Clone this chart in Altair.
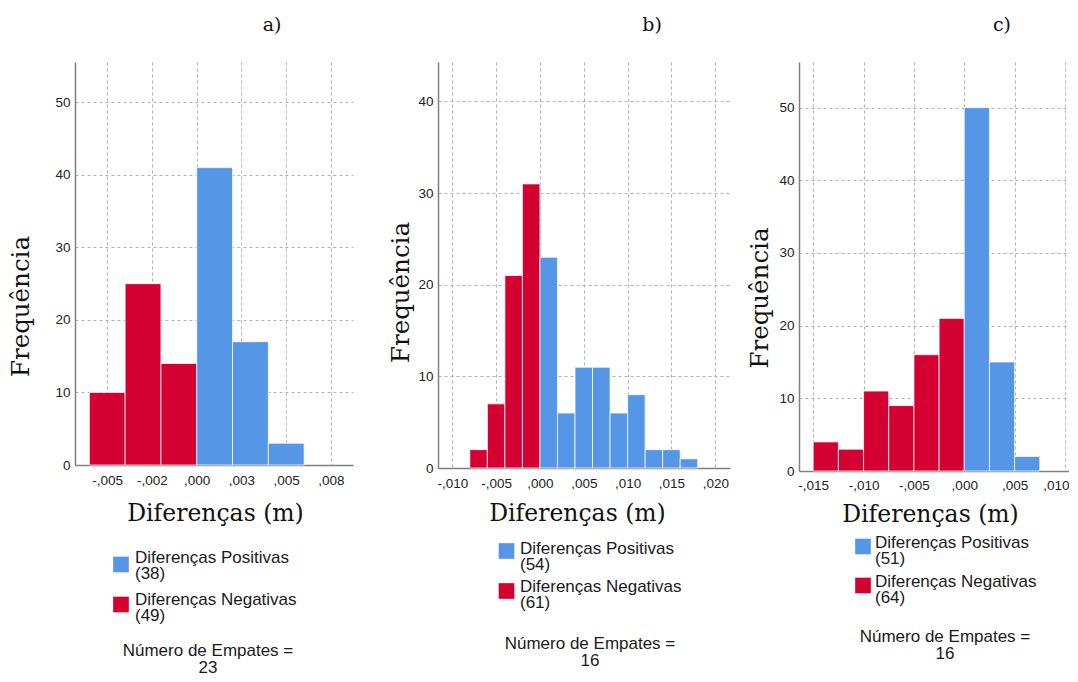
import altair as alt
import pandas as pd

BLUE = "#5596E6"
RED = "#D50032"

# ---------------- data ----------------
legend_names = ["Diferenças Positivas", "Diferenças Negativas"]
panel_titles = ["a)", "b)", "c)"]
x_title = "Diferenças (m)"
y_title = "Frequência"
ties_label = "Número de Empates ="

a_edges = [-0.006, -0.004, -0.002, 0.000, 0.002, 0.004, 0.006]
a_counts = [10, 25, 14, 41, 17, 3]
a_xticks = [-0.005, -0.0025, 0.0, 0.0025, 0.005, 0.0075]
a_xlabels = ["-,005", "-,002", ",000", ",003", ",005", ",008"]
a_yticks = [0, 10, 20, 30, 40, 50]
a_legend_counts = [38, 49]
a_ties = 23

b_edges = [-0.008, -0.006, -0.004, -0.002, 0.000, 0.002, 0.004, 0.006,
           0.008, 0.010, 0.012, 0.014, 0.016, 0.018]
b_counts = [2, 7, 21, 31, 23, 6, 11, 11, 6, 8, 2, 2, 1]
b_xticks = [-0.010, -0.005, 0.0, 0.005, 0.010, 0.015, 0.020]
b_xlabels = ["-,010", "-,005", ",000", ",005", ",010", ",015", ",020"]
b_yticks = [0, 10, 20, 30, 40]
b_legend_counts = [54, 61]
b_ties = 16

c_edges = [-0.015, -0.0125, -0.010, -0.0075, -0.005, -0.0025, 0.0,
           0.0025, 0.005, 0.0075]
c_counts = [4, 3, 11, 9, 16, 21, 50, 15, 2]
c_xticks = [-0.015, -0.010, -0.005, 0.0, 0.005, 0.010]
c_xlabels = ["-,015", "-,010", "-,005", ",000", ",005", ",010"]
c_yticks = [0, 10, 20, 30, 40, 50]
c_legend_counts = [51, 64]
c_ties = 16


def label_expr(ticks, labels):
    vals = ",".join(repr(float(t)) for t in ticks)
    labs = ",".join("'" + l + "'" for l in labels)
    return f"[{labs}][indexof([{vals}], datum.value)]"


def panel(edges, counts, xticks, xlabels, yticks, xdom, ydom, w, h,
          title, title_dx, leg_counts, ties, geo):
    df = pd.DataFrame({
        "start": edges[:-1],
        "end": edges[1:],
        "count": counts,
    })
    df["sign"] = [legend_names[1] if s < 0 else legend_names[0] for s in df["start"]]

    xaxis_kw = dict(values=xticks, labelExpr=label_expr(xticks, xlabels),
                    title=x_title, grid=True, labelPadding=geo["xlabpad"],
                    titleY=geo["xtitleY"], titleX=geo["xtitleX"],
                    titleBaseline="top")
    if "flush" in geo:
        xaxis_kw.update(labelFlush=geo["flush"], labelFlushOffset=geo["flushoff"])

    bars = alt.Chart(df).mark_bar(
        stroke="white", strokeWidth=1, strokeOpacity=0.75
    ).encode(
        x=alt.X("start:Q",
                scale=alt.Scale(domain=xdom, nice=False, zero=False),
                axis=alt.Axis(**xaxis_kw)),
        x2="end:Q",
        y=alt.Y("count:Q",
                scale=alt.Scale(domain=ydom, nice=False, zero=True),
                axis=alt.Axis(values=yticks, title=y_title, grid=True,
                              labelPadding=5, titleX=geo["ytitleX"],
                              titleY=geo["ytitleY"], titleBaseline="bottom")),
        y2=alt.datum(0),
        color=alt.Color("sign:N",
                        scale=alt.Scale(domain=legend_names, range=[BLUE, RED]),
                        legend=None),
    )

    layers = [bars]
    colors = [BLUE, RED]
    for i in range(2):
        sq = alt.Chart(pd.DataFrame({"k": [legend_names[i]]})).mark_square(
            size=245, color=colors[i], opacity=1, filled=True
        ).encode(x=alt.value(geo["sqx"]), y=alt.value(geo["sqy"][i]))
        txt = alt.Chart(pd.DataFrame({"t": [f"{legend_names[i]}\n({leg_counts[i]})"]})).mark_text(
            align="left", baseline="alphabetic", lineBreak="\n", lineHeight=16,
            font="Liberation Sans", fontSize=17, color="#1a1a1a"
        ).encode(text="t:N", x=alt.value(geo["txtx"]), y=alt.value(geo["txty"][i]))
        layers += [sq, txt]

    ties_txt = alt.Chart(pd.DataFrame({"t": [f"{ties_label}\n{ties}"]})).mark_text(
        align="center", baseline="alphabetic", lineBreak="\n", lineHeight=17,
        font="Liberation Sans", fontSize=17, color="#1a1a1a"
    ).encode(text="t:N", x=alt.value(geo["tiex"]), y=alt.value(geo["tiey"]))
    layers.append(ties_txt)

    return alt.layer(*layers).properties(
        width=w, height=h,
        title=alt.TitleParams(text=title, font="DejaVu Serif", fontSize=19,
                              fontWeight="normal", anchor="middle", frame="group",
                              dx=title_dx, offset=12, baseline="alphabetic",
                              color="#111111"),
    )


pa = panel(a_edges, a_counts, a_xticks, a_xlabels, a_yticks,
           [-0.00680, 0.00873], [0, 55.56], 278, 403, panel_titles[0], 58,
           a_legend_counts, a_ties,
           dict(xlabpad=8, xtitleY=36, xtitleX=140, ytitleX=-42, ytitleY=244,
                sqx=46, sqy=[502.5, 542.5], txtx=60, txty=[501, 543],
                tiex=133, tiey=594))
pb = panel(b_edges, b_counts, b_xticks, b_xlabels, b_yticks,
           [-0.01163, 0.02168], [0, 44.30], 292, 406, panel_titles[1], 68,
           b_legend_counts, b_ties,
           dict(xlabpad=8, xtitleY=33, xtitleX=139, ytitleX=-25, ytitleY=230,
                sqx=68.5, sqy=[489, 529], txtx=82, txty=[492, 530],
                tiex=152, tiey=587))
pc = panel(c_edges, c_counts, c_xticks, c_xlabels, c_yticks,
           [-0.01641, 0.01040], [0, 56.28], 270, 409, panel_titles[2], 68,
           c_legend_counts, c_ties,
           dict(xlabpad=7, xtitleY=31, xtitleX=131, ytitleX=-27, ytitleY=235.5,
                sqx=64, sqy=[484.5, 523.5], txtx=76, txty=[486, 525],
                tiex=146, tiey=580, flush=12, flushoff=4))

spacer1 = alt.Chart(pd.DataFrame({"s": [0]})).mark_point(opacity=0).properties(width=65, height=400)
spacer2 = alt.Chart(pd.DataFrame({"s": [0]})).mark_point(opacity=0).properties(width=49, height=400)

chart = alt.hconcat(pa, spacer1, pb, spacer2, pc, spacing=10, bounds="flush").properties(
    padding={"left": 0, "top": 8, "right": 0, "bottom": -3}
).configure_axis(
    labelFont="Liberation Sans", labelFontSize=13.5, labelColor="#222222",
    titleFont="DejaVu Serif", titleFontSize=24, titleFontWeight="normal",
    titleColor="#111111", domainColor="#808080", domainWidth=1.5,
    gridColor="#b0b0b0", gridDash=[3, 3], gridWidth=1, ticks=False,
).configure_axisX(titleFontSize=23.5).configure_axisY(titleFontSize=24.5).configure_view(
    stroke=None
)

chart.save("out.html", embed_options={"renderer": "svg", "actions": False})
